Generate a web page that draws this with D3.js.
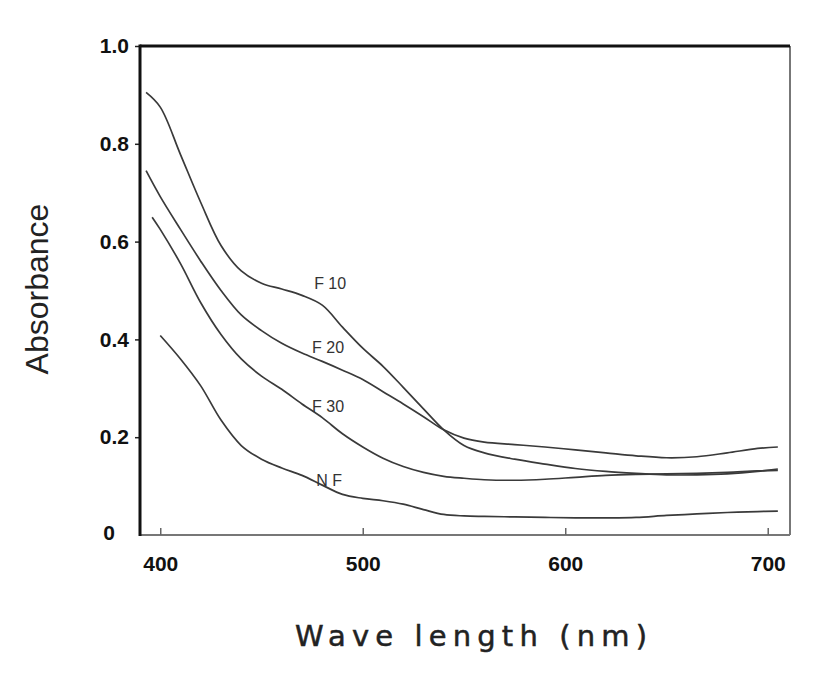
<!DOCTYPE html>
<html>
<head>
<meta charset="utf-8">
<script src="https://cdn.jsdelivr.net/npm/d3@7"></script>
<style>
  body { margin: 0; background: #fff; }
  svg { display: block; }
  .tick text { font-family: "Liberation Sans", Arial, sans-serif; font-weight: bold; font-size: 21px; fill: #111; }
  .curve { fill: none; stroke: #3a3a3a; stroke-width: 1.7; }
  .lbl { font-family: "Liberation Sans", Arial, sans-serif; font-size: 16px; fill: #333; }
</style>
</head>
<body>
<svg id="chart" width="827" height="694"></svg>
<script>
// Wavelengths (nm) and absorbance
const wlF10 = [393, 400, 410, 420, 430, 440, 450, 460, 470, 480, 490, 500, 510, 520, 530, 540, 550, 560, 575, 590, 605, 620, 635, 650, 665, 680, 695, 705];
const absF10 = [0.905, 0.875, 0.778, 0.680, 0.592, 0.540, 0.515, 0.503, 0.490, 0.470, 0.425, 0.382, 0.345, 0.302, 0.258, 0.215, 0.183, 0.168, 0.155, 0.145, 0.136, 0.130, 0.126, 0.123, 0.123, 0.125, 0.130, 0.135];

const wlF20 = [393, 400, 410, 420, 430, 440, 450, 460, 470, 480, 490, 500, 510, 520, 530, 540, 550, 560, 575, 590, 605, 620, 635, 650, 665, 680, 695, 705];
const absF20 = [0.745, 0.692, 0.625, 0.560, 0.500, 0.450, 0.418, 0.392, 0.372, 0.355, 0.337, 0.318, 0.293, 0.268, 0.242, 0.215, 0.198, 0.190, 0.185, 0.180, 0.174, 0.168, 0.162, 0.158, 0.160, 0.168, 0.177, 0.180];

const wlF30 = [396, 400, 410, 420, 430, 440, 450, 460, 470, 480, 490, 500, 510, 520, 530, 540, 550, 560, 575, 590, 605, 620, 635, 650, 665, 680, 695, 705];
const absF30 = [0.650, 0.625, 0.555, 0.475, 0.410, 0.360, 0.325, 0.298, 0.268, 0.240, 0.207, 0.180, 0.157, 0.140, 0.128, 0.120, 0.116, 0.113, 0.112, 0.114, 0.118, 0.122, 0.124, 0.125, 0.126, 0.128, 0.131, 0.132];

const wlNF = [400, 410, 420, 430, 440, 450, 460, 470, 480, 490, 500, 510, 520, 530, 540, 550, 560, 575, 590, 605, 620, 635, 650, 665, 680, 695, 705];
const absNF = [0.408, 0.360, 0.305, 0.235, 0.183, 0.155, 0.137, 0.122, 0.102, 0.083, 0.075, 0.070, 0.063, 0.052, 0.042, 0.039, 0.038, 0.037, 0.036, 0.035, 0.035, 0.036, 0.040, 0.043, 0.046, 0.048, 0.049];

const series = [
  { name: 'F 10', wl: wlF10, abs: absF10 },
  { name: 'F 20', wl: wlF20, abs: absF20 },
  { name: 'F 30', wl: wlF30, abs: absF30 },
  { name: 'N F', wl: wlNF, abs: absNF },
];

// Where each curve's name sits (nm, absorbance)
const labelNames = ['F 10', 'F 20', 'F 30', 'N F'];
const labelWl = [476, 475, 475, 477];
const labelAbs = [0.515, 0.384, 0.262, 0.112];

const xTicks = [400, 500, 600, 700];
const yTicks = [0, 0.2, 0.4, 0.6, 0.8, 1.0];
const yTickLabels = ['0', '0.2', '0.4', '0.6', '0.8', '1.0'];

const svg = d3.select('#chart');
const plotLeft = 140, plotRight = 790, plotTop = 46, plotBottom = 535;

const x = d3.scaleLinear().domain([390, 711]).range([plotLeft, plotRight]);
const y = d3.scaleLinear().domain([0, 1]).range([plotBottom, plotTop]);

// Frame: bottom / right are lighter like the scan
svg.append('line').attr('x1', plotLeft).attr('x2', plotRight).attr('y1', plotBottom).attr('y2', plotBottom)
  .attr('stroke', '#777').attr('stroke-width', 2);
svg.append('line').attr('x1', plotRight).attr('x2', plotRight).attr('y1', plotTop).attr('y2', plotBottom)
  .attr('stroke', '#777').attr('stroke-width', 2);

// x axis, ticks pointing into the plot
const xAxis = svg.append('g')
  .attr('transform', `translate(0,${plotBottom})`)
  .call(d3.axisBottom(x).tickValues(xTicks).tickSizeInner(-7).tickSizeOuter(0).tickPadding(21));
xAxis.select('.domain').remove();
xAxis.selectAll('.tick line').attr('stroke', '#666').attr('stroke-width', 1.5);

// y axis, short ticks outside
const yAxis = svg.append('g')
  .attr('transform', `translate(${plotLeft},0)`)
  .call(d3.axisLeft(y).tickValues(yTicks).tickFormat((d, i) => yTickLabels[i]).tickSizeInner(5).tickSizeOuter(0).tickPadding(6));
yAxis.select('.domain').remove();
yAxis.selectAll('.tick line').attr('stroke', '#222').attr('stroke-width', 1.5);
yAxis.selectAll('.tick').filter((d) => d === 0).select('line').remove();
yAxis.selectAll('.tick').filter((d) => d === 0).select('text').attr('x', -25).attr('dy', '0.2em');

// thick top and left edges
svg.append('line').attr('x1', plotLeft).attr('x2', plotRight).attr('y1', plotTop).attr('y2', plotTop)
  .attr('stroke', '#111').attr('stroke-width', 3);
svg.append('line').attr('x1', plotLeft).attr('x2', plotLeft).attr('y1', plotTop - 1.5).attr('y2', plotBottom + 1)
  .attr('stroke', '#111').attr('stroke-width', 3);

const line = d3.line()
  .x((d) => x(d[0]))
  .y((d) => y(d[1]))
  .curve(d3.curveCatmullRom.alpha(0.5));

svg.append('g').selectAll('path')
  .data(series)
  .join('path')
  .attr('class', 'curve')
  .attr('d', (s) => line(s.wl.map((w, i) => [w, s.abs[i]])));

svg.append('g').selectAll('text')
  .data(labelNames)
  .join('text')
  .attr('class', 'lbl')
  .attr('x', (d, i) => x(labelWl[i]))
  .attr('y', (d, i) => y(labelAbs[i]))
  .attr('dy', '0.35em')
  .text((d) => d);

// Axis titles
svg.append('text')
  .attr('x', 295).attr('y', 646)
  .attr('textLength', 352).attr('lengthAdjust', 'spacing')
  .style('font-family', '"DejaVu Sans", sans-serif')
  .style('font-size', '29px')
  .style('fill', '#222')
  .style('stroke', '#222')
  .style('stroke-width', 0.5)
  .text('Wave length (nm)');

svg.append('text')
  .attr('transform', 'translate(48,289) rotate(-90)')
  .attr('text-anchor', 'middle')
  .style('font-family', '"Liberation Sans", Arial, sans-serif')
  .style('font-size', '32px')
  .style('fill', '#222')
  .text('Absorbance');
</script>
</body>
</html>
